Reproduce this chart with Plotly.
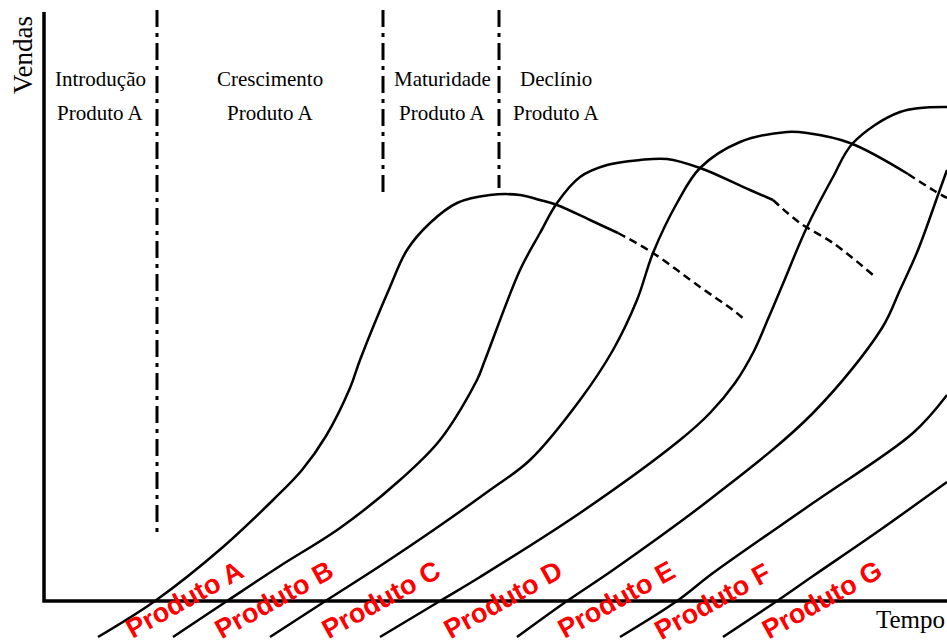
import plotly.graph_objects as go

# ---- data (Tempo / Vendas units) ----
produtos = ["Produto A", "Produto B", "Produto C", "Produto D", "Produto E", "Produto F", "Produto G"]

tempo_A = [54, 111, 179, 229, 258, 282, 306, 316, 346, 363, 386, 413, 446, 476, 496, 513, 546, 574]
vendas_A = [-36, 0, 54, 101, 131, 165, 213, 241, 314, 351, 378, 398, 406, 406, 401, 396, 381, 368]
tempo_A_dec = [574, 609, 656, 689, 701]
vendas_A_dec = [368, 348, 314, 291, 281]

tempo_B = [129, 183, 236, 296, 356, 396, 433, 441, 476, 496, 513, 536, 563, 596, 623, 656, 706, 729]
vendas_B = [-36, 0, 35, 73, 121, 161, 221, 241, 331, 368, 398, 424, 436, 441, 442, 433, 411, 401]
tempo_B_dec = [729, 756, 789, 829]
vendas_B_dec = [401, 378, 358, 326]

tempo_C = [226, 283, 336, 391, 446, 486, 536, 569, 593, 609, 633, 656, 696, 743, 763, 806, 864]
vendas_C = [-36, 1, 35, 72, 111, 141, 201, 251, 301, 348, 398, 433, 459, 469, 468, 458, 427]
tempo_C_dec = [864, 889, 903]
vendas_C_dec = [427, 411, 403]

tempo_D = [336, 396, 436, 536, 636, 666, 691, 710, 724, 738, 763, 789, 809, 856, 903]
vendas_D = [-36, 0, 24, 88, 161, 188, 218, 250, 282, 315, 374, 424, 458, 489, 494]

tempo_E = [473, 523, 569, 669, 769, 838, 856, 874, 894, 903]
vendas_E = [-36, 0, 31, 104, 188, 273, 311, 351, 406, 431]

tempo_F = [576, 633, 669, 769, 869, 903]
vendas_F = [-36, 0, 28, 98, 168, 206]

tempo_G = [679, 733, 769, 836, 903]
vendas_G = [-36, 0, 25, 71, 119]

fases = ["Introdução", "Crescimento", "Maturidade", "Declínio"]
fase_tempo = [56, 226, 398, 512]
limites_tempo = [113, 339, 455]
limites_vendas_inicio = [66, 408, 413]
limite_topo = 591

rotulo_tempo = [140, 230, 337, 459, 572, 668, 778]
rotulo_vendas = [1, 1, 1, 1, 1, -1, 1]

# ---- figure ----
fig = go.Figure()
solid = dict(color="black", width=2.5, shape="spline", smoothing=1.0)
dashed = dict(color="black", width=2.5, dash="8px,5px", shape="spline", smoothing=1.0)

for tx, vy in [(tempo_A, vendas_A), (tempo_B, vendas_B), (tempo_C, vendas_C),
               (tempo_D, vendas_D), (tempo_E, vendas_E), (tempo_F, vendas_F), (tempo_G, vendas_G)]:
    fig.add_trace(go.Scatter(x=tx, y=vy, mode="lines", line=solid, hoverinfo="skip"))
for tx, vy in [(tempo_A_dec, vendas_A_dec), (tempo_B_dec, vendas_B_dec), (tempo_C_dec, vendas_C_dec)]:
    fig.add_trace(go.Scatter(x=tx, y=vy, mode="lines", line=dashed, hoverinfo="skip"))

# phase boundaries
for t, v0 in zip(limites_tempo, limites_vendas_inicio):
    fig.add_trace(go.Scatter(x=[t, t], y=[limite_topo, v0], mode="lines",
                             line=dict(color="black", width=3, dash="17px,6px,4px,6px"), hoverinfo="skip"))

# axes lines
fig.add_trace(go.Scatter(x=[0, 0, 903], y=[589, 0, 0], mode="lines",
                         line=dict(color="black", width=3.5), hoverinfo="skip"))

serif = "Liberation Serif, Times New Roman, serif"
ann = []
for nome, t in zip(fases, fase_tempo):
    ann.append(dict(x=t, y=522, text=nome, showarrow=False, xanchor="center", yanchor="middle",
                    font=dict(family=serif, size=21, color="black")))
    ann.append(dict(x=t, y=488, text="Produto A", showarrow=False, xanchor="center", yanchor="middle",
                    font=dict(family=serif, size=21, color="black")))
ann.append(dict(x=-21, y=546, text="Vendas", textangle=-90, showarrow=False, xanchor="center",
                yanchor="middle", font=dict(family=serif, size=27, color="black")))
ann.append(dict(x=830, y=-18, text="Tempo", showarrow=False, xanchor="left",
                yanchor="middle", font=dict(family=serif, size=25, color="black")))
for nome, t, v in zip(produtos, rotulo_tempo, rotulo_vendas):
    ann.append(dict(x=t, y=v, text="<b>" + nome + "</b>", textangle=-29, showarrow=False,
                    xanchor="center", yanchor="middle",
                    font=dict(family="Liberation Sans, Arial, sans-serif", size=27, color="#FF0000")))

fig.update_layout(
    width=947, height=640, margin=dict(l=0, r=0, t=0, b=0),
    paper_bgcolor="white", plot_bgcolor="white", showlegend=False,
    xaxis=dict(range=[-44, 903], visible=False, fixedrange=True),
    yaxis=dict(range=[-39, 601], visible=False, fixedrange=True),
    annotations=ann,
)
fig.write_html("out.html", config={"displayModeBar": False},
               post_script="document.body.style.margin='0';document.body.style.overflow='hidden';")
